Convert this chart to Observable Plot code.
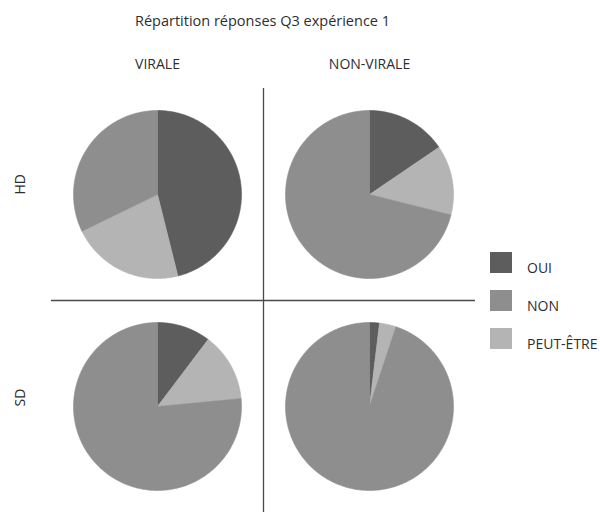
<!DOCTYPE html>
<html>
<head>
<meta charset="utf-8">
<script src="https://cdn.jsdelivr.net/npm/d3@7"></script>
<script src="https://cdn.jsdelivr.net/npm/@observablehq/plot@0.6"></script>
<style>
  html, body { margin: 0; padding: 0; background: #fff; }
  body { width: 600px; height: 519px; position: relative; overflow: hidden; font-family: "Open Sans", sans-serif; color: #2e2e2e; }
  #title { position: absolute; top: 11px; left: 0; width: 525px; text-align: center; font-size: 14.5px; }
  #legend { position: absolute; left: 490px; top: 252px; font-size: 14px; white-space: nowrap; }
  .item { display: flex; align-items: flex-end; height: 21px; margin-bottom: 17px; }
  .sw { width: 22px; height: 21px; margin-right: 15px; flex: none; }
  .lab { line-height: 1; margin-bottom: -2px; }
  #chart { position: absolute; left: 0; top: 0; }
</style>
</head>
<body>
<div id="title">Répartition réponses Q3 expérience 1</div>
<div id="chart"></div>
<div id="legend"></div>
<script>
// ---- data ----
const categories = ["OUI", "NON", "PEUT-ÊTRE"];          // legend order
const pieOrder = ["OUI", "PEUT-ÊTRE", "NON"];            // clockwise order from 12 o'clock
const colors = ["#5d5d5d", "#8e8e8e", "#b4b4b4"];
const cols = ["VIRALE", "NON-VIRALE"];
const rows = ["HD", "SD"];
// panels: HD/VIRALE, HD/NON-VIRALE, SD/VIRALE, SD/NON-VIRALE
const panelRow = ["HD", "HD", "SD", "SD"];
const panelCol = ["VIRALE", "NON-VIRALE", "VIRALE", "NON-VIRALE"];
const oui  = [46.1, 15.5, 10.3, 1.9];
const non  = [32.2, 71.1, 76.5, 94.9];
const peut = [21.7, 13.4, 13.2, 3.2];

// ---- build slice polygons (unit circle, angles clockwise from top) ----
const valueOf = {"OUI": oui, "NON": non, "PEUT-ÊTRE": peut};
const pts = [];
panelRow.forEach((row, i) => {
  const col = panelCol[i];
  const arcs = d3.pie().sort(null).value(d => d.v)(pieOrder.map(a => ({a, v: valueOf[a][i]})));
  arcs.forEach(arc => {
    const key = row + "|" + col + "|" + arc.data.a;
    pts.push({x: 0, y: 0, key, answer: arc.data.a, row, col});
    const n = Math.max(2, Math.ceil((arc.endAngle - arc.startAngle) / (Math.PI / 180)));
    for (let k = 0; k <= n; k++) {
      const t = arc.startAngle + (arc.endAngle - arc.startAngle) * k / n;
      pts.push({x: Math.sin(t), y: Math.cos(t), key, answer: arc.data.a, row, col});
    }
    pts.push({x: 0, y: 0, key, answer: arc.data.a, row, col});
  });
});

const half = 106 / 84;
const chart = Plot.plot({
  width: 600,
  height: 519,
  marginLeft: 51,
  marginRight: 125,
  marginTop: 88,
  marginBottom: 7,
  style: {fontFamily: "Open Sans, sans-serif", color: "#2e2e2e", background: "transparent"},
  x: {domain: [-half, half], axis: null},
  y: {domain: [-half, half], axis: null},
  fx: {domain: cols, padding: 0, axis: null},
  fy: {domain: rows, padding: 0, axis: null},
  color: {domain: categories, range: colors},
  marks: [
    Plot.line(pts, {x: "x", y: "y", z: "key", fx: "col", fy: "row", fill: "answer", stroke: "answer", strokeWidth: 0.6, curve: "linear"}),
    // dividers
    Plot.ruleX(rows, {fy: d => d, fx: () => cols[0], x: () => half, stroke: "#4a4a4a", strokeWidth: 1.3}),
    Plot.ruleY(cols, {fx: d => d, fy: () => rows[0], y: () => -half, stroke: "#4a4a4a", strokeWidth: 1.3}),
    // column headers
    Plot.text(cols, {fx: d => d, fy: () => rows[0], text: d => d, frameAnchor: "top", dy: -29, fontSize: 14, fill: "#2e2e2e"}),
    // row headers
    Plot.text(rows, {fy: d => d, fx: () => cols[0], text: d => d, frameAnchor: "left", dx: -31, rotate: -90, fontSize: 14, fill: "#2e2e2e"})
  ]
});
document.getElementById("chart").appendChild(chart);

// legend from the plot's color scale
const cs = chart.scale("color");
const leg = document.getElementById("legend");
cs.domain.forEach((c, i) => {
  const it = document.createElement("div");
  it.className = "item";
  it.innerHTML = `<div class="sw" style="background:${cs.range[i]}"></div><div class="lab">${c}</div>`;
  leg.appendChild(it);
});
</script>
</body>
</html>
